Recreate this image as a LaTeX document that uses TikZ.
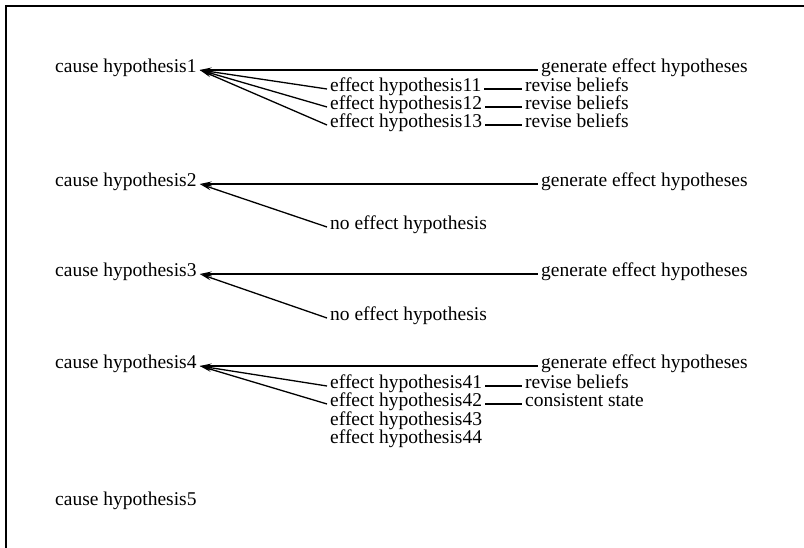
\documentclass[tikz,border=0pt]{standalone}
\usepackage{fontspec}
\setmainfont{Liberation Serif}
\usetikzlibrary{arrows.meta}
\begin{document}
\begin{tikzpicture}[x=1pt,y=-1pt,
  lbl/.style={anchor=west,inner xsep=3pt,inner ysep=0pt,font=\fontsize{19.5}{21}\selectfont,text height=1.3ex,text depth=0ex},
  link/.style={line width=1.3pt},
  fan/.style={line width=1.3pt,{Stealth[length=12pt,width=5pt]}-},
  frame/.style={line width=1.3pt}]
\useasboundingbox (0,0) rectangle (804,548);
\draw[frame] (804,6) -- (6,6) -- (6,548);
% cause 1
\node[lbl] (c1) at (52,70) {cause hypothesis1};
\node[lbl] (g1) at (538,70) {generate effect hypotheses};
\node[lbl] (e11) at (327,89) {effect hypothesis11};
\node[lbl] (e12) at (327,107) {effect hypothesis12};
\node[lbl] (e13) at (327,125) {effect hypothesis13};
\node[lbl] (r11) at (522,89) {revise beliefs};
\node[lbl] (r12) at (522,107) {revise beliefs};
\node[lbl] (r13) at (522,125) {revise beliefs};
\draw[fan] (c1.east) -- (g1.west);
\draw[fan] (c1.east) -- (e11.west);
\draw[fan] (c1.east) -- (e12.west);
\draw[fan] (c1.east) -- (e13.west);
\draw[link] (e11.east) -- (r11.west);
\draw[link] (e12.east) -- (r12.west);
\draw[link] (e13.east) -- (r13.west);
% cause 2
\node[lbl] (c2) at (52,184) {cause hypothesis2};
\node[lbl] (g2) at (538,184) {generate effect hypotheses};
\node[lbl] (n2) at (327,227) {no effect hypothesis};
\draw[fan] (c2.east) -- (g2.west);
\draw[fan] (c2.east) -- (n2.west);
% cause 3
\node[lbl] (c3) at (52,274) {cause hypothesis3};
\node[lbl] (g3) at (538,274) {generate effect hypotheses};
\node[lbl] (n3) at (327,318) {no effect hypothesis};
\draw[fan] (c3.east) -- (g3.west);
\draw[fan] (c3.east) -- (n3.west);
% cause 4
\node[lbl] (c4) at (52,366) {cause hypothesis4};
\node[lbl] (g4) at (538,366) {generate effect hypotheses};
\node[lbl] (e41) at (327,386) {effect hypothesis41};
\node[lbl] (e42) at (327,404) {effect hypothesis42};
\node[lbl] (e43) at (327,423) {effect hypothesis43};
\node[lbl] (e44) at (327,441) {effect hypothesis44};
\node[lbl] (r41) at (522,386) {revise beliefs};
\node[lbl] (s42) at (522,404) {consistent state};
\draw[fan] (c4.east) -- (g4.west);
\draw[fan] (c4.east) -- (e41.west);
\draw[fan] (c4.east) -- (e42.west);
\draw[link] (e41.east) -- (r41.west);
\draw[link] (e42.east) -- (s42.west);
% cause 5
\node[lbl] (c5) at (52,503) {cause hypothesis5};
\end{tikzpicture}
\end{document}
